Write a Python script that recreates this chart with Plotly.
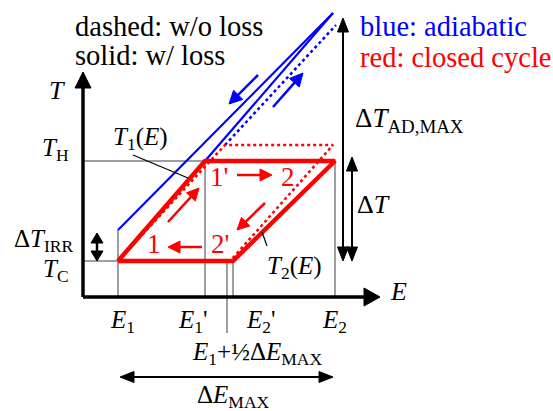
import plotly.graph_objects as go

# Diagram coordinates: x grows to the right along E, y grows downward (reversed axis)
W, H = 553, 411

# Energy levels on the E axis: E1, E1', E1+1/2 dE_max, E2', E2
E_LEVELS = [118, 205, 227, 233, 335]
# Temperature levels on the T axis: T_C, T_H
T_LEVELS = [261, 161]
# Top of the lossless (dotted) cycle and the end of its left edge
T_TOP_IDEAL = 145
E_TOP_IDEAL = [225, 333]
E_BOT_IDEAL = 232
T_BOT_IDEAL = 259
# Adiabats: start of the lossy adiabat above E1, common top point, lossless top point
T_AD_START = 230
AD_TOP = [333, 13]
AD_TOP_IDEAL = [336, 25]
# Axes
ORIGIN = [83, 297]
X_TIP = 380
Y_TIP = 72

E1, E1p, Ehalf, E2p, E2 = E_LEVELS
TC, TH = T_LEVELS

RED = "#ff0000"
BLUE = "#0000ff"
GRAY = "#7f7f7f"
FONT = "'Liberation Serif', 'Times New Roman', Times, serif"

fig = go.Figure()


def line(xs, ys, color, width, dash=None):
    fig.add_trace(go.Scatter(x=xs, y=ys, mode="lines",
                             line=dict(color=color, width=width, dash=dash),
                             hoverinfo="skip", showlegend=False))


def head(xt, yt, dx, dy, length, half):
    # filled triangle with its tip at (xt, yt) pointing along (dx, dy)
    n = (dx * dx + dy * dy) ** 0.5
    ux, uy = dx / n, dy / n
    bx, by = xt - ux * length, yt - uy * length
    px, py = -uy * half, ux * half
    return [xt, bx + px, bx - px, xt], [yt, by + py, by - py, yt]


def arrow(x0, y0, x1, y1, color, width, length, half, both=False):
    dx, dy = x1 - x0, y1 - y0
    n = (dx * dx + dy * dy) ** 0.5
    ux, uy = dx / n, dy / n
    sx, sy = (x0 + ux * length * 0.8, y0 + uy * length * 0.8) if both else (x0, y0)
    ex, ey = x1 - ux * length * 0.8, y1 - uy * length * 0.8
    line([sx, ex], [sy, ey], color, width)
    tips = [(x1, y1, dx, dy)]
    if both:
        tips.append((x0, y0, -dx, -dy))
    for xt, yt, ddx, ddy in tips:
        hx, hy = head(xt, yt, ddx, ddy, length, half)
        fig.add_trace(go.Scatter(x=hx, y=hy, mode="lines", fill="toself",
                                 fillcolor=color, line=dict(color=color, width=1),
                                 hoverinfo="skip", showlegend=False))


def text(x, y, s, color="black", size=24, xanchor="center", yanchor="middle"):
    fig.add_annotation(x=x, y=y, text=s, showarrow=False, xanchor=xanchor,
                       yanchor=yanchor, font=dict(family=FONT, size=size, color=color))


# guide lines
line([ORIGIN[0], E2], [TH, TH], GRAY, 1.5)
line([ORIGIN[0], E2p], [TC, TC], GRAY, 1.5)
line([E1, E1], [T_AD_START, ORIGIN[1]], GRAY, 1.5)
line([E1p, E1p], [TH, ORIGIN[1]], GRAY, 1.5)
line([E2p, E2p], [TC, ORIGIN[1]], GRAY, 1.5)
line([E2, E2], [TH, ORIGIN[1]], GRAY, 1.5)
line([Ehalf, Ehalf], [TC, 333], GRAY, 1.5)

# adiabats
line([E1, AD_TOP[0]], [T_AD_START, AD_TOP[1]], BLUE, 2.2)
line([E1p, AD_TOP[0]], [TH, AD_TOP[1]], BLUE, 2.2)
line([E_TOP_IDEAL[0], AD_TOP_IDEAL[0]], [T_TOP_IDEAL, AD_TOP_IDEAL[1]], BLUE, 2.5, "dot")

# lossless cycle (dotted)
line([E1, E_TOP_IDEAL[0], E_TOP_IDEAL[1], E_BOT_IDEAL],
     [TC, T_TOP_IDEAL, T_TOP_IDEAL, T_BOT_IDEAL], RED, 2.5, "dot")
# cycle with loss (solid)
line([E1, E1p, E2, E2p, E1], [TC, TH, TH, TC, TC], RED, 4.5)

# axes
line([ORIGIN[0], ORIGIN[0]], [ORIGIN[1], Y_TIP + 12], "black", 3.5)
line([ORIGIN[0], X_TIP - 12], [ORIGIN[1], ORIGIN[1]], "black", 3.5)
for hx, hy in (head(ORIGIN[0], Y_TIP, 0, -1, 16, 8), head(X_TIP, ORIGIN[1], 1, 0, 16, 9)):
    fig.add_trace(go.Scatter(x=hx, y=hy, mode="lines", fill="toself", fillcolor="black",
                             line=dict(color="black", width=1), hoverinfo="skip",
                             showlegend=False))

# process arrows
arrow(258, 75, 229, 104, BLUE, 2.5, 13, 6.5)
arrow(273, 107, 303, 73, BLUE, 2.5, 13, 6.5)
arrow(168, 222, 199, 188, RED, 2.5, 12, 6)
arrow(237, 175, 272, 175, RED, 2.5, 12, 6)
arrow(265, 203, 237, 230, RED, 2.5, 12, 6)
arrow(202, 247, 168, 247, RED, 2.5, 12, 6)

# dimension arrows
arrow(343, TC, 343, AD_TOP[1] + 5, "black", 2, 14, 5.5, both=True)
arrow(352, TC, 352, TH - 4, "black", 2, 14, 5.5, both=True)
arrow(97, T_AD_START + 3, 97, TC, "black", 2.5, 10, 6, both=True)
arrow(E1 + 2, 377, E2 - 2, 377, "black", 2, 14, 5.5, both=True)

# leader lines for the curve labels
line([133, 188], [155, 178], "black", 1.2)
line([262, 267], [232, 246], "black", 1.2)

# state labels
text(219, 177, "1'", RED, 27)
text(288, 177, "2", RED, 27)
text(154, 244, "1", RED, 27)
text(220, 244, "2'", RED, 27)

# key
text(73, 26, "dashed: w/o loss", size=28.5, xanchor="left")
text(73, 55, "solid: w/ loss", size=28.5, xanchor="left")
text(358, 26, "blue: adiabatic", BLUE, 28.5, xanchor="left")
text(358, 57, "red: closed cycle", RED, 28.5, xanchor="left")

# axis labels
text(57, 90, "<i>T</i>", size=26)
text(398, 291, "<i>E</i>", size=26)
text(71, 149, "<i>T</i><sub>H</sub>", size=25, xanchor="right")
text(71, 270, "<i>T</i><sub>C</sub>", size=25, xanchor="right")
text(75, 240, "Δ<i>T</i><sub>IRR</sub>", size=25, xanchor="right")
text(122, 321, "<i>E</i><sub>1</sub>", size=25)
text(193, 321, "<i>E</i><sub>1</sub>'", size=25)
text(261, 321, "<i>E</i><sub>2</sub>'", size=25)
text(334, 321, "<i>E</i><sub>2</sub>", size=25)
text(190, 353, "<i>E</i><sub>1</sub>+½Δ<i>E</i><sub>MAX</sub>", size=25, xanchor="left")
text(233, 396, "Δ<i>E</i><sub>MAX</sub>", size=25)
text(140, 138, "<i>T</i><sub>1</sub>(<i>E</i>)", size=25)
text(294, 267, "<i>T</i><sub>2</sub>(<i>E</i>)", size=25)
text(353, 120, "Δ<i>T</i><sub>AD,MAX</sub>", size=27, xanchor="left")
text(355, 204, "Δ<i>T</i>", size=26, xanchor="left")

fig.update_layout(
    width=W, height=H, margin=dict(l=0, r=0, t=0, b=0),
    paper_bgcolor="white", plot_bgcolor="white",
    xaxis=dict(range=[0, W], visible=False, fixedrange=True),
    yaxis=dict(range=[H, 0], visible=False, fixedrange=True),
    showlegend=False,
)

fig.write_html("out.html")
